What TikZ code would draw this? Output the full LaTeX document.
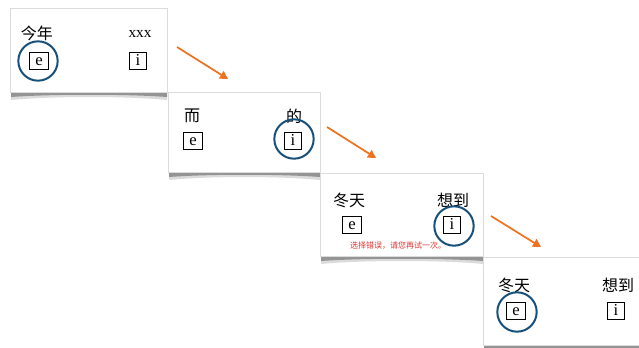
\documentclass[tikz,border=0pt]{standalone}
\usepackage{fontspec}
\setmainfont{Liberation Serif}
\newfontfamily\cjk{Noto Sans CJK SC}
\usepackage{tikz}
\usetikzlibrary{arrows.meta}

\definecolor{ringblue}{RGB}{24,80,124}
\definecolor{arroworange}{RGB}{238,114,32}
\definecolor{errred}{RGB}{228,52,52}

\tikzset{
  card/.style={draw=black!14, fill=white, line width=0.4pt},
  word/.style={inner sep=0.75pt, font=\cjk\fontsize{12}{12}\selectfont},
  latinword/.style={inner sep=0.75pt, font=\fontsize{11.5}{11.5}\selectfont},
  letterbox/.style={draw, line width=0.6pt, inner xsep=4.6pt, inner ysep=0pt, minimum height=13pt,
    text height=8.5pt, text depth=2.5pt, font=\fontsize{12.5}{12.5}\selectfont},
  ring/.style={draw=ringblue, line width=1.5pt, circle, minimum size=29.5pt, inner sep=0pt},
  nextarrow/.style={draw=arroworange, line width=1.3pt, -{Triangle[length=6pt,width=6.5pt]}},
  errnote/.style={inner sep=0.75pt, text=errred, font=\cjk\fontsize{6}{6}\selectfont},
}

% shadow under a card: left x, right x, bottom y
\newcommand{\cardshadow}[3]{%
  \fill[black!14] (#1,#3) -- (#2,#3) -- (#2,#3+8) .. controls (#2-40,#3+4) and (#1+40,#3+4) .. (#1,#3+8) -- cycle;
  \fill[black!42] (#1,#3) -- (#2,#3) -- (#2,#3+5) .. controls (#2-40,#3+2) and (#1+40,#3+2) .. (#1,#3+5) -- cycle;
}

\begin{document}
\begin{tikzpicture}[x=0.75pt,y=0.75pt,yscale=-1,xscale=1]
\useasboundingbox (0,0) rectangle (639,347);

%Shape: Card 1
\cardshadow{11}{167}{92}
\draw[card] (10,8) rectangle (167,92);
%Shape: Card 2
\cardshadow{169}{320}{172}
\draw[card] (168,92) rectangle (320,172);
%Shape: Card 3
\cardshadow{321}{483}{256}
\draw[card] (320,173) rectangle (483,256);
%Shape: Card 4
\cardshadow{484}{645}{345}
\draw[card] (483,257) rectangle (645,345);

% Text Node
\node[word] (w1a) at (37,33) {今年};
\node[latinword] (w1b) at (140,34) {xxx};
\node[letterbox] (e1) at (39,61) {e};
\node[letterbox] (i1) at (138,61) {i};
\node[ring] (r1) at (38,61) {};

% Text Node
\node[word] (w2a) at (192,116) {而};
\node[word] (w2b) at (294,116) {的};
\node[letterbox] (e2) at (193,141) {e};
\node[letterbox] (i2) at (293,141) {i};
\node[ring] (r2) at (294,139) {};

% Text Node
\node[word] (w3a) at (349,200) {冬天};
\node[word] (w3b) at (453,200) {想到};
\node[letterbox] (e3) at (352,225) {e};
\node[letterbox] (i3) at (452,225) {i};
\node[ring] (r3) at (454,226) {};
\node[errnote] (msg3) at (398,246) {选择错误，请您再试一次。};

% Text Node
\node[word] (w4a) at (514,285) {冬天};
\node[word] (w4b) at (618,285) {想到};
\node[letterbox] (e4) at (516,311) {e};
\node[letterbox] (i4) at (616,311) {i};
\node[ring] (r4) at (517,312) {};

%Straight Lines
\coordinate (a1s) at (177,47);
\coordinate (a1e) at (228,79);
\coordinate (a2s) at (327,127);
\coordinate (a2e) at (376,158);
\coordinate (a3s) at (491,216);
\coordinate (a3e) at (541,247);
\draw[nextarrow] (a1s) -- (a1e);
\draw[nextarrow] (a2s) -- (a2e);
\draw[nextarrow] (a3s) -- (a3e);
\end{tikzpicture}
\end{document}
